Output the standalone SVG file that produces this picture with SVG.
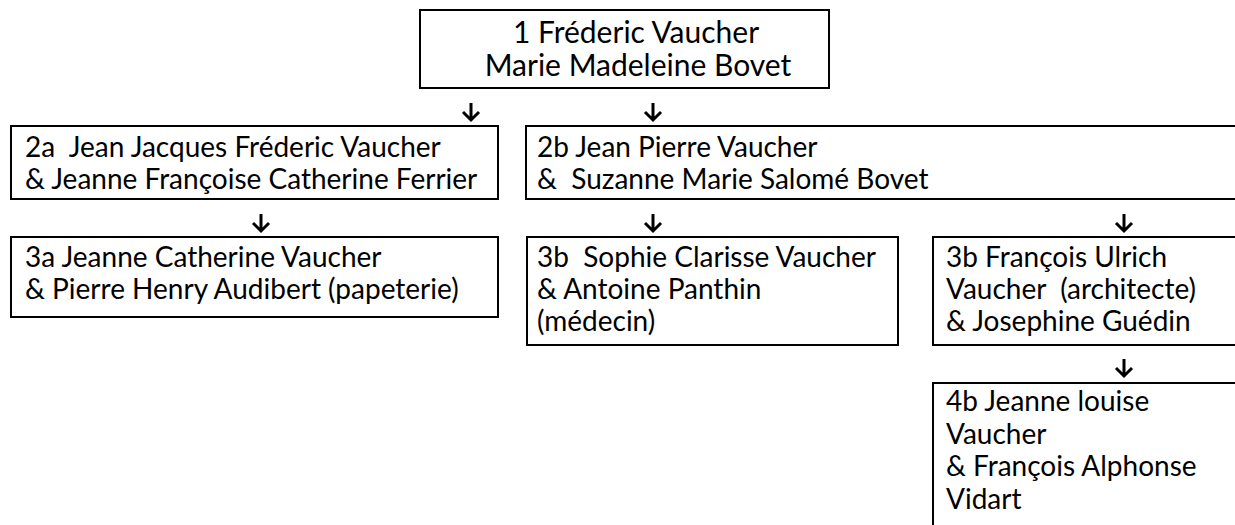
<svg xmlns="http://www.w3.org/2000/svg" width="1235" height="525" viewBox="0 0 1235 525">
<style>
.box{fill:#fff;stroke:#000;stroke-width:2}
text{font-family:Lato,"Liberation Sans",sans-serif;font-size:28px;fill:#000;white-space:pre}
.c{text-anchor:middle;font-size:30px}
.arr{fill:none;stroke:#000;stroke-width:3;stroke-linecap:butt;stroke-linejoin:miter}
</style>
<rect width="1235" height="525" fill="#fff"/>
<g id="n1">
<rect class="box" x="420" y="10" width="409" height="78"/>
<text class="c" x="636" y="43">1 Fréderic Vaucher</text>
<text class="c" x="638" y="76">Marie Madeleine Bovet</text>
</g>
<g id="n2a">
<rect class="box" x="11" y="126" width="487" height="73"/>
<text x="25" y="157">2a  Jean Jacques Fréderic Vaucher</text>
<text x="25" y="189">&amp; Jeanne Françoise Catherine Ferrier</text>
</g>
<g id="n2b">
<rect class="box" x="526" y="126" width="720" height="73"/>
<text x="537" y="157">2b Jean Pierre Vaucher</text>
<text x="537" y="189">&amp;  Suzanne Marie Salomé Bovet</text>
</g>
<g id="n3a">
<rect class="box" x="11" y="237" width="487" height="80"/>
<text x="25" y="267">3a Jeanne Catherine Vaucher</text>
<text x="25" y="299">&amp; Pierre Henry Audibert (papeterie)</text>
</g>
<g id="n3b1">
<rect class="box" x="527" y="237" width="371" height="108"/>
<text x="537" y="267">3b  Sophie Clarisse Vaucher</text>
<text x="537" y="299">&amp; Antoine Panthin</text>
<text x="537" y="331">(médecin)</text>
</g>
<g id="n3b2">
<rect class="box" x="933" y="237" width="312" height="108"/>
<text x="946" y="267">3b François Ulrich</text>
<text x="946" y="299">Vaucher  (architecte)</text>
<text x="946" y="331">&amp; Josephine Guédin</text>
</g>
<g id="n4b">
<rect class="box" x="933" y="383" width="312" height="150"/>
<text x="946" y="411">4b Jeanne louise</text>
<text x="946" y="443.5">Vaucher</text>
<text x="946" y="476">&amp; François Alphonse</text>
<text x="946" y="508.5">Vidart</text>
</g>
<g id="connectors">
<path class="arr" d="M471,103V120M463,112L471,120L479,112"/>
<path class="arr" d="M653,103V120M645,112L653,120L661,112"/>
<path class="arr" d="M261,214V231M253,223L261,231L269,223"/>
<path class="arr" d="M653,214V231M645,223L653,231L661,223"/>
<path class="arr" d="M1124,214V231M1116,223L1124,231L1132,223"/>
<path class="arr" d="M1124,359V376M1116,368L1124,376L1132,368"/>
</g>
</svg>
